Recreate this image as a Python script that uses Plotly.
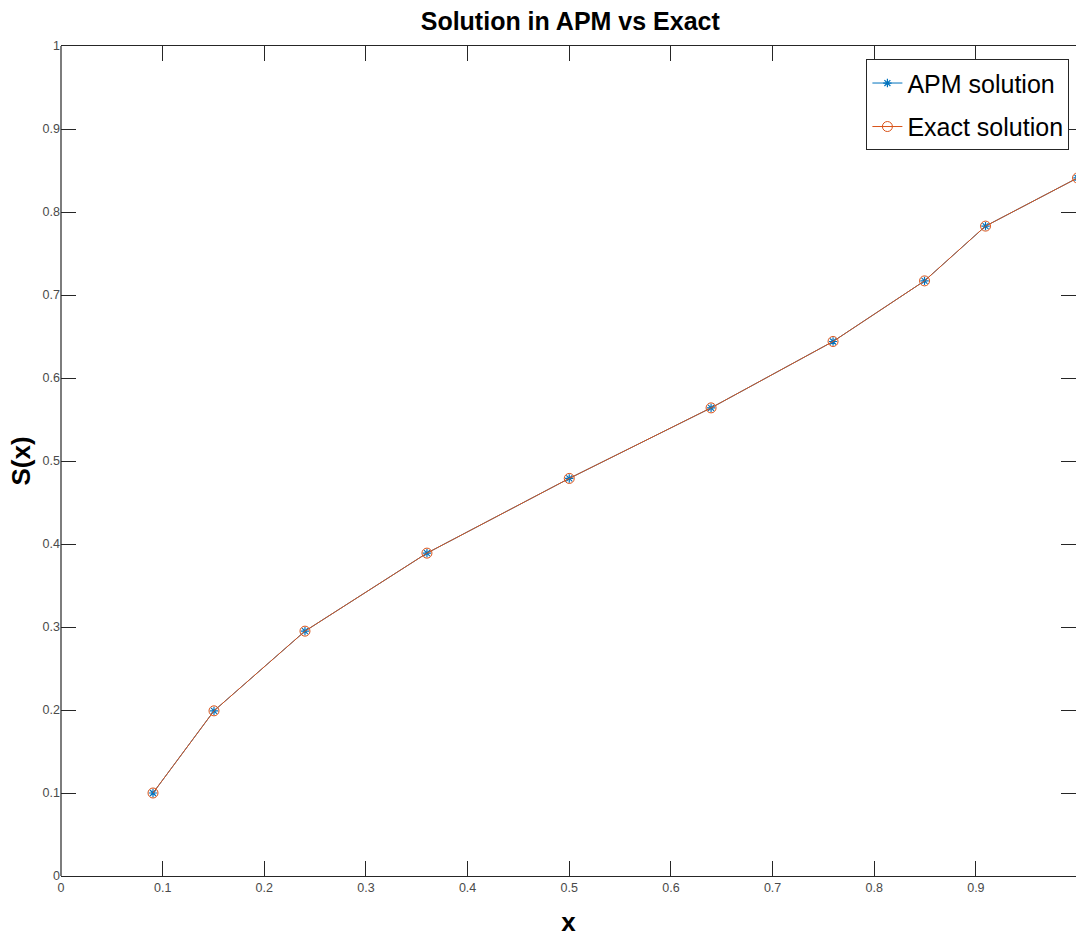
import plotly.graph_objects as go

# Node positions and solution values
x_nodes = [0.0905, 0.1505, 0.2400, 0.3600, 0.5000, 0.6395, 0.7595, 0.8495, 0.9095, 1.0000]
s_apm = [0.100, 0.199, 0.295, 0.389, 0.479, 0.564, 0.644, 0.717, 0.783, 0.841]
s_exact = [0.100, 0.199, 0.295, 0.389, 0.479, 0.564, 0.644, 0.717, 0.783, 0.841]

x_ticks = [0, 0.1, 0.2, 0.3, 0.4, 0.5, 0.6, 0.7, 0.8, 0.9]
y_ticks = [0, 0.1, 0.2, 0.3, 0.4, 0.5, 0.6, 0.7, 0.8, 0.9, 1]

BLUE = "#0072BD"
ORANGE = "#D95319"
SANS = "Liberation Sans, Arial, sans-serif"

fig = go.Figure()
fig.add_trace(go.Scatter(
    x=x_nodes, y=s_apm, name="APM solution", mode="lines+markers", legendgroup="apm",
    line=dict(color=BLUE, width=1),
    marker=dict(symbol="asterisk-open", size=7, color=BLUE, line=dict(color=BLUE, width=1.2)),
))
fig.add_trace(go.Scatter(
    x=x_nodes, y=s_exact, name="Exact solution", mode="lines+markers", legendgroup="exact",
    line=dict(color=ORANGE, width=1),
    marker=dict(symbol="circle-open", size=10, color=ORANGE, line=dict(color=ORANGE, width=1)),
))

axis_common = dict(
    ticks="inside", ticklen=15, tickwidth=1, tickcolor="#262626",
    showgrid=False, zeroline=False,
    tickfont=dict(family=SANS, size=12.5, color="#4a4a4a"),
)

fig.update_xaxes(
    range=[0, 0.9985], tickvals=x_ticks, ticktext=[f"{v:g}" for v in x_ticks],
    showline=True, linecolor="#262626", linewidth=1.2, mirror="ticks",
    title=dict(text="<b>x</b>", font=dict(family=SANS, size=26, color="#000"), standoff=18),
    **axis_common,
)
fig.update_yaxes(
    range=[0, 1], tickvals=y_ticks, ticktext=[f"{v:g}" for v in y_ticks],
    showline=False, mirror="ticks",
    title=dict(text="<b>S(x)</b>", font=dict(family=SANS, size=26, color="#000"), standoff=4),
    **axis_common,
)

# left axis spine
fig.add_shape(type="line", xref="paper", yref="paper", x0=0, x1=0, y0=0, y1=1,
              line=dict(color="#262626", width=1.2))

fig.update_layout(
    width=1076, height=944,
    margin=dict(l=61, r=0, t=46, b=68),
    paper_bgcolor="white", plot_bgcolor="white",
    title=dict(text="<b>Solution in APM vs Exact</b>", x=0.53, xanchor="center", y=0.978, yanchor="middle",
               font=dict(family=SANS, size=25, color="#000")),
    showlegend=True,
    legend=dict(
        x=0.9935, xanchor="right", y=0.984, yanchor="top",
        bgcolor="white", bordercolor="#262626", borderwidth=1,
        font=dict(family=SANS, size=25, color="#000"),
        traceorder="grouped", tracegroupgap=8,
    ),
)

fig.write_html("out.html")
